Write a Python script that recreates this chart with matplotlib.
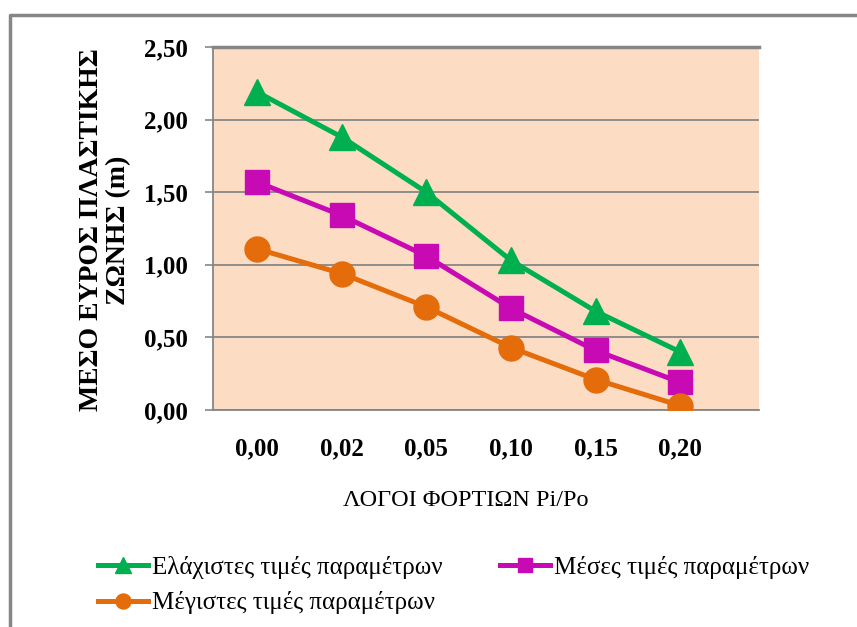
import numpy as np
import matplotlib
matplotlib.use("Agg")
import matplotlib.pyplot as plt
from matplotlib.lines import Line2D

# λόγοι φορτίων και μέσο εύρος πλαστικής ζώνης (m)
logoi = ["0,00", "0,02", "0,05", "0,10", "0,15", "0,20"]
elaxistes = [2.19, 1.88, 1.50, 1.03, 0.68, 0.40]
meses = [1.57, 1.34, 1.06, 0.70, 0.41, 0.19]
megistes = [1.11, 0.94, 0.71, 0.43, 0.21, 0.03]

seires = [
    ("Ελάχιστες τιμές παραμέτρων", elaxistes, "#00B050", "^", 19),
    ("Μέσες τιμές παραμέτρων", meses, "#C70AB4", "s", 17),
    ("Μέγιστες τιμές παραμέτρων", megistes, "#E46C0A", "o", 18),
]

plt.rcParams['font.family'] = ['Liberation Serif', 'DejaVu Serif']

W, H = 857, 627
fig = plt.figure(figsize=(W / 100, H / 100), dpi=100)
ax = fig.add_axes([213 / W, 1 - 410 / H, (759 - 213) / W, (410 - 47) / H])
ax.set_facecolor("#FCDDC4")

x = np.arange(len(logoi))
handles = []
for onoma, y, xroma, marker, ms in seires:
    h, = ax.plot(x, y, color=xroma, lw=3.6, marker=marker, ms=ms,
                 label=onoma, zorder=3)
    handles.append(h)

ax.set_xlim(-0.52, 5.93)
ax.set_ylim(0, 2.5)
ax.set_yticks(np.arange(0, 2.51, 0.5))
ax.set_yticklabels([f"{v:.2f}".replace(".", ",") for v in np.arange(0, 2.51, 0.5)],
                   fontsize=18, fontweight="bold")
ax.set_xticks(x)
ax.set_xticklabels(logoi, fontsize=18, fontweight="bold")
ax.tick_params(axis="y", length=6, width=1.2, color="#868686", pad=12)
ax.tick_params(axis="x", length=0, pad=20)
ax.grid(axis="y", color="#868686", lw=1.3)
ax.set_axisbelow(True)
ax.spines["right"].set_visible(False)
for s in ["left", "bottom", "top"]:
    ax.spines[s].set_color("#868686")
    ax.spines[s].set_linewidth(1.3)
ax.spines["top"].set_linewidth(2.5)

fig.text(466 / W, 1 - 500 / H, "ΛΟΓΟΙ ΦΟΡΤΙΩΝ Pi/Po", ha="center", va="center",
         fontsize=17.5)
fig.text(105 / W, 1 - 230 / H, "ΜΕΣΟ ΕΥΡΟΣ ΠΛΑΣΤΙΚΗΣ\nΖΩΝΗΣ (m)", rotation=90,
         ha="center", va="center", fontsize=20, fontweight="bold",
         multialignment="center", linespacing=1.15)

# σειρά ώστε η πρώτη γραμμή να έχει ελάχιστες και μέσες τιμές
seira_leg = [handles[0], handles[2], handles[1]]
fig.legend(handles=seira_leg, loc="upper left", bbox_to_anchor=(98 / W, 1 - 556 / H),
           ncol=2, frameon=False, fontsize=18, handlelength=2.0, handletextpad=0.15,
           columnspacing=2.3, labelspacing=0.5, markerscale=0.6,
           borderaxespad=0, borderpad=0)

# γκρι πλαίσιο γύρω από το διάγραμμα
fig.add_artist(Line2D([10 / W, 10 / W, 1.0], [0.0, 1 - 15 / H, 1 - 15 / H],
                      transform=fig.transFigure, color="#868686", lw=2.5))

fig.savefig("out.png", dpi=100)
